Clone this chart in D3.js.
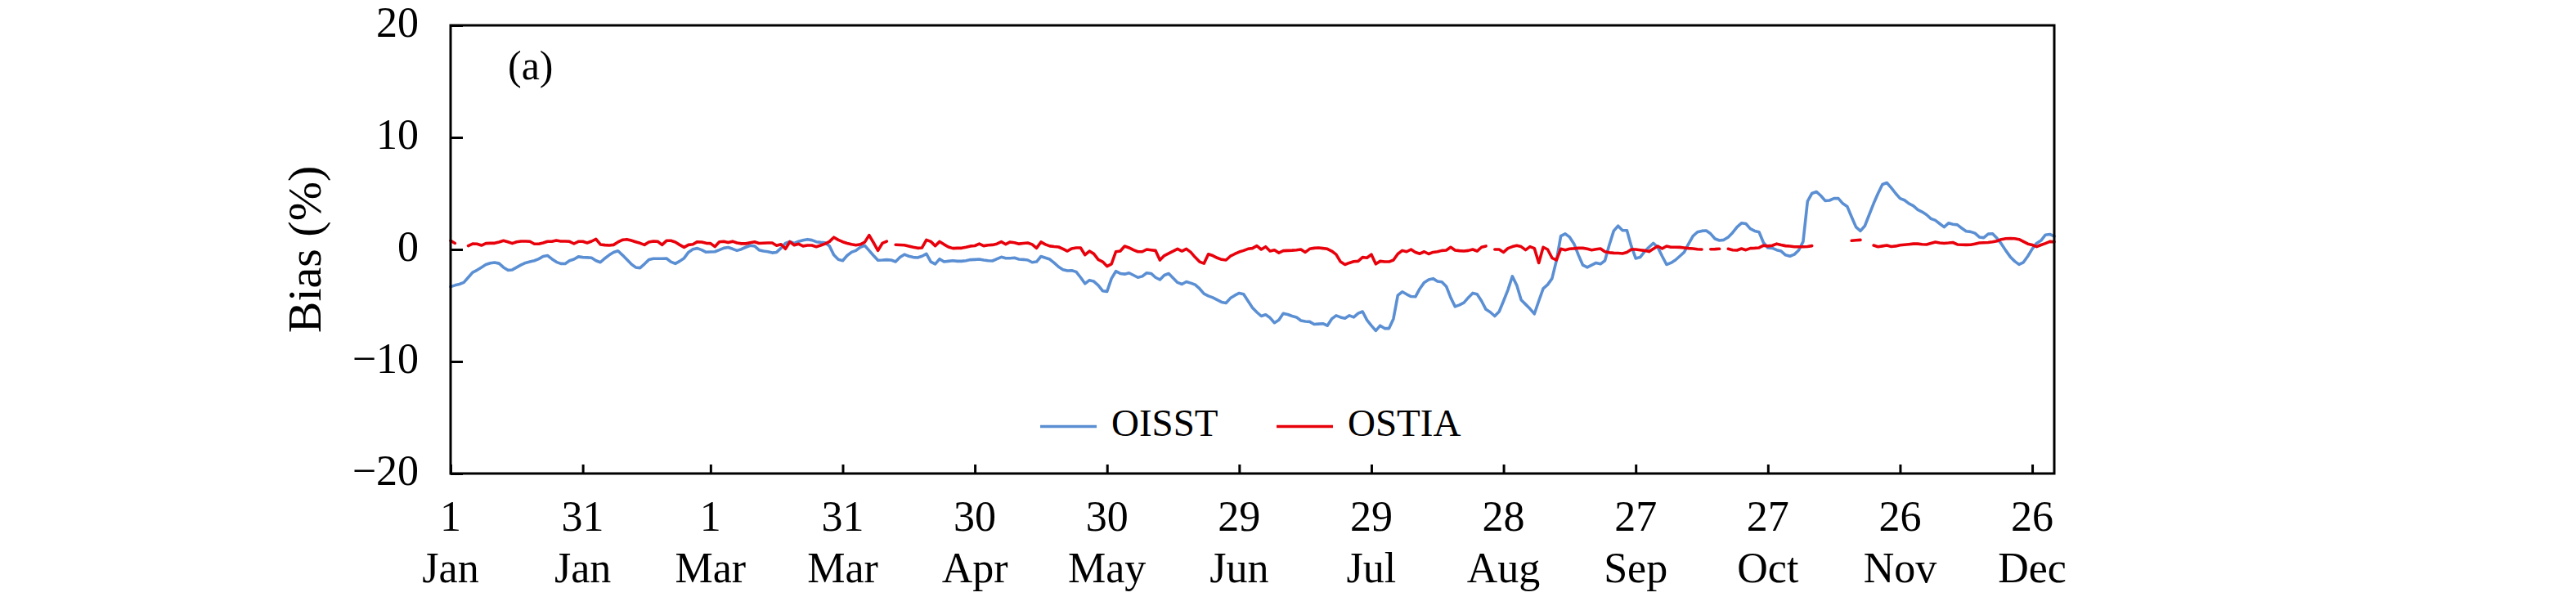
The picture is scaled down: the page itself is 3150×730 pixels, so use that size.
<!DOCTYPE html>
<html><head><meta charset="utf-8">
<script src="https://cdn.jsdelivr.net/npm/d3@7"></script>
<style>body{margin:0;background:#fff}</style>
</head><body>
<svg id="chart" width="3150" height="730"></svg>
<script>
// ---- data (day of year 1..365) ----
const oisst = [
-3.33,-3.2,-3.1,-2.95,-2.5,-2.05,-1.85,-1.6,-1.35,-1.22,
-1.17,-1.25,-1.6,-1.85,-1.82,-1.6,-1.38,-1.2,-1.1,-1.0,
-0.85,-0.62,-0.55,-0.85,-1.12,-1.27,-1.28,-1.0,-0.88,-0.65,
-0.7,-0.72,-0.75,-1.0,-1.15,-0.8,-0.5,-0.25,-0.13,-0.5,
-0.9,-1.3,-1.6,-1.65,-1.3,-0.92,-0.82,-0.82,-0.82,-0.8,
-1.1,-1.27,-1.05,-0.78,-0.25,0.02,0.1,-0.05,-0.24,-0.22,
-0.2,-0.05,0.12,0.18,0.05,-0.1,0.02,0.2,0.35,0.3,
-0.05,-0.15,-0.2,-0.3,-0.25,0.12,0.55,0.7,0.55,0.72,
0.82,0.9,0.83,0.68,0.63,0.6,0.3,-0.5,-0.9,-1.0,
-0.55,-0.25,-0.1,0.2,0.35,-0.1,-0.55,-0.97,-0.95,-0.92,
-0.95,-1.09,-0.7,-0.45,-0.6,-0.7,-0.73,-0.6,-0.39,-1.1,
-1.3,-0.85,-1.1,-1.05,-1.0,-1.05,-1.05,-1.0,-0.92,-0.9,
-0.88,-0.95,-1.0,-1.02,-0.85,-0.68,-0.78,-0.78,-0.75,-0.88,
-0.9,-0.95,-1.15,-1.1,-0.62,-0.75,-0.88,-1.2,-1.55,-1.8,
-1.9,-1.88,-2.0,-2.5,-3.05,-2.75,-2.85,-3.2,-3.7,-3.75,
-2.6,-1.95,-2.15,-2.2,-2.1,-2.3,-2.5,-2.4,-2.1,-2.15,
-2.5,-2.7,-2.3,-2.15,-2.55,-2.95,-3.1,-2.88,-3.0,-3.15,
-3.5,-3.95,-4.15,-4.3,-4.5,-4.7,-4.78,-4.35,-4.1,-3.9,
-4.0,-4.6,-5.2,-5.6,-5.95,-5.82,-6.1,-6.55,-6.3,-5.72,
-5.8,-5.95,-6.05,-6.35,-6.42,-6.45,-6.68,-6.65,-6.62,-6.8,
-6.2,-5.9,-6.05,-6.15,-5.9,-6.05,-5.7,-5.55,-6.3,-6.8,
-7.25,-6.8,-7.05,-7.05,-6.2,-4.1,-3.78,-4.0,-4.2,-4.22,
-3.5,-2.95,-2.7,-2.6,-2.85,-2.9,-3.3,-4.3,-5.1,-4.95,
-4.75,-4.3,-3.9,-4.0,-4.6,-5.35,-5.6,-5.95,-5.55,-4.6,
-3.6,-2.4,-3.2,-4.5,-4.9,-5.3,-5.75,-4.6,-3.5,-3.15,
-2.6,-1.0,1.2,1.4,1.1,0.5,-0.5,-1.4,-1.6,-1.4,
-1.2,-1.3,-1.0,0.4,1.65,2.1,1.7,1.7,0.3,-0.8,
-0.7,-0.2,0.2,0.55,0.2,-0.6,-1.35,-1.2,-0.95,-0.6,
-0.25,0.5,1.2,1.55,1.65,1.68,1.4,0.95,0.8,0.85,
1.1,1.5,2.0,2.35,2.3,1.85,1.65,1.55,0.6,0.15,
0.12,-0.05,-0.15,-0.5,-0.6,-0.45,-0.07,0.7,4.3,5.0,
5.15,4.8,4.35,4.38,4.55,4.55,4.1,3.84,2.9,2.0,
1.65,2.1,3.1,4.1,5.0,5.8,5.95,5.5,5.0,4.55,
4.4,4.1,3.9,3.55,3.35,3.1,2.75,2.6,2.3,2.0,
2.35,2.25,2.2,1.9,1.62,1.58,1.45,1.1,1.05,1.38,
1.4,1.0,0.5,-0.1,-0.65,-1.05,-1.34,-1.15,-0.6,0.05,
0.55,0.8,1.3,1.35,1.17
];
const ostia = [
0.78,0.55,null,null,0.32,0.5,0.49,0.36,0.54,0.56,
0.56,0.66,0.78,0.68,0.54,0.68,0.73,0.73,0.71,0.49,
0.49,0.58,0.71,0.71,0.8,0.73,0.73,0.71,0.51,0.71,
0.71,0.58,0.73,0.92,0.44,0.39,0.36,0.41,0.66,0.85,
0.9,0.8,0.68,0.56,0.41,0.66,0.73,0.71,0.41,0.78,
0.78,0.66,0.41,0.19,0.41,0.46,0.68,0.66,0.56,0.54,
0.25,0.68,0.71,0.62,0.72,0.58,0.52,0.52,0.6,0.68,
0.55,0.57,0.58,0.58,0.35,0.45,0.05,0.68,0.38,0.49,
0.3,0.36,0.36,0.24,0.36,0.5,0.7,1.08,0.85,0.68,
0.55,0.45,0.38,0.45,0.65,1.27,0.6,-0.1,0.55,0.72,
null,0.42,0.4,0.38,0.3,0.2,0.12,0.15,0.85,0.7,
0.32,0.7,0.45,0.22,0.1,0.12,0.12,0.2,0.3,0.33,
0.5,0.32,0.38,0.41,0.5,0.68,0.46,0.66,0.6,0.5,
0.55,0.58,0.45,0.12,0.66,0.45,0.3,0.25,0.22,0.05,
-0.15,0.08,0.15,0.15,-0.49,-0.15,-0.39,-0.9,-1.1,-1.5,
-1.3,-0.2,-0.15,0.29,0.15,-0.05,-0.2,-0.2,0.0,-0.05,
-0.1,-0.95,-0.55,-0.35,-0.15,0.05,-0.15,0.05,-0.25,-0.7,
-1.1,-1.25,-0.42,-0.55,-0.75,-0.9,-0.95,-0.6,-0.4,-0.22,
-0.1,0.05,0.1,0.32,0.0,0.24,-0.15,-0.05,-0.3,-0.12,
-0.1,-0.08,-0.05,0.0,-0.25,0.05,0.12,0.15,0.1,0.05,
-0.15,-0.45,-1.1,-1.35,-1.2,-1.08,-1.05,-0.7,-0.75,-0.45,
-1.3,-1.05,-1.1,-1.1,-0.95,-0.4,-0.1,-0.2,0.0,-0.25,
-0.38,-0.2,-0.4,-0.25,-0.2,-0.1,-0.07,0.2,-0.07,-0.12,
-0.15,-0.1,0.0,-0.15,0.2,0.3,null,0.0,0.0,-0.25,
0.1,0.25,0.35,0.25,-0.05,0.25,0.1,-1.2,0.2,0.0,
-0.75,-0.95,0.05,-0.05,0.05,0.08,0.12,0.12,0.05,-0.05,
0.02,0.07,-0.2,-0.28,-0.32,-0.33,-0.36,-0.25,0.0,0.0,
-0.05,-0.1,-0.19,0.05,0.29,0.07,0.29,0.2,0.2,0.19,
0.15,0.1,0.07,0.02,0.0,null,0.02,0.03,0.05,null,
0.05,-0.05,-0.07,0.07,-0.05,0.1,0.12,0.15,0.35,0.3,
0.35,0.5,0.4,0.32,0.29,0.24,0.24,0.24,0.26,0.32,
null,null,null,null,null,null,null,null,0.78,0.82,
0.85,null,null,0.36,0.24,0.3,0.36,0.26,0.3,0.38,
0.42,0.46,0.5,0.5,0.46,0.44,0.55,0.66,0.58,0.55,
0.58,0.62,0.44,0.42,0.41,0.42,0.5,0.58,0.6,0.62,
0.68,0.75,0.9,0.97,0.98,0.97,0.9,0.7,0.5,0.4,
0.25,0.4,0.54,0.7,0.68
];
const tickDays = [1,31,60,90,120,150,180,210,240,270,300,330,360];
const tickDayLabels = ["1","31","1","31","30","30","29","29","28","27","27","26","26"];
const tickMonthLabels = ["Jan","Jan","Mar","Mar","Apr","May","Jun","Jul","Aug","Sep","Oct","Nov","Dec"];
const yTickValues = [-20,-10,0,10,20];
const seriesNames = ["OISST","OSTIA"];
const panelLabel = "(a)";
const yTitle = "Bias (%)";

// ---- layout ----
const FONT = "'Liberation Serif','Times New Roman',serif";
const L = 551, R = 2512, T = 31, B = 579;
const colors = ["#5b8fd3", "#e8000b"];

const svg = d3.select("#chart");
svg.append("rect").attr("width",3150).attr("height",730).attr("fill","#fff");

const x = d3.scaleLinear().domain([1,365]).range([L,R]);
const y = d3.scaleLinear().domain([-20,20]).range([B,T]);

// lines
const series = [oisst, ostia];
series.forEach((vals, si) => {
  const line = d3.line()
    .defined(d => d != null)
    .x((d,i) => x(i+1))
    .y(d => y(d));
  svg.append("path")
    .datum(vals)
    .attr("fill","none")
    .attr("stroke", colors[si])
    .attr("stroke-width", 3.6)
    .attr("stroke-linejoin","round")
    .attr("stroke-linecap","round")
    .attr("d", line);
});

// frame
svg.append("rect").attr("x",L).attr("y",T).attr("width",R-L).attr("height",B-T)
  .attr("fill","none").attr("stroke","#000").attr("stroke-width",3);

// x axis ticks (inward)
const xAxis = d3.axisBottom(x).tickValues(tickDays).tickSizeInner(-11).tickSizeOuter(0).tickFormat("");
const gx = svg.append("g").attr("transform",`translate(0,${B})`).call(xAxis);
gx.select(".domain").remove();
gx.selectAll(".tick line").attr("stroke","#000").attr("stroke-width",3);
tickDays.forEach((d,i) => {
  const t = svg.append("text").attr("text-anchor","middle")
    .attr("font-family",FONT).attr("font-size",52).attr("fill","#000");
  t.append("tspan").attr("x",x(d)).attr("y",649).text(tickDayLabels[i]);
  t.append("tspan").attr("x",x(d)).attr("y",712).text(tickMonthLabels[i]);
});

// y axis ticks (inward)
const yAxis = d3.axisLeft(y).tickValues(yTickValues).tickSizeInner(-15).tickSizeOuter(0).tickFormat("");
const gy = svg.append("g").attr("transform",`translate(${L},0)`).call(yAxis);
gy.select(".domain").remove();
gy.selectAll(".tick line").attr("stroke","#000").attr("stroke-width",3);
yTickValues.forEach(v => {
  svg.append("text").attr("x",512).attr("y",y(v)+14)
    .attr("text-anchor","end").attr("font-family",FONT).attr("font-size",52)
    .attr("fill","#000")
    .text(v < 0 ? "\u2212" + Math.abs(v) : String(v));
});

// y title
svg.append("text")
  .attr("transform",`translate(392,${(T+B)/2}) rotate(-90)`)
  .attr("text-anchor","middle").attr("font-family",FONT).attr("font-size",58)
  .attr("fill","#000").text(yTitle);

// panel label
svg.append("text").attr("x",621).attr("y",97).attr("font-family",FONT)
  .attr("font-size",50).attr("fill","#000").text(panelLabel);

// legend
const legX = [1272, 1561];
seriesNames.forEach((n,i) => {
  svg.append("line").attr("x1",legX[i]).attr("x2",legX[i]+69)
    .attr("y1",521.5).attr("y2",521.5).attr("stroke",colors[i]).attr("stroke-width",3.6);
  svg.append("text").attr("x",legX[i]+87).attr("y",533).attr("font-family",FONT)
    .attr("font-size",47).attr("fill","#000").text(n);
});
</script>
</body></html>
